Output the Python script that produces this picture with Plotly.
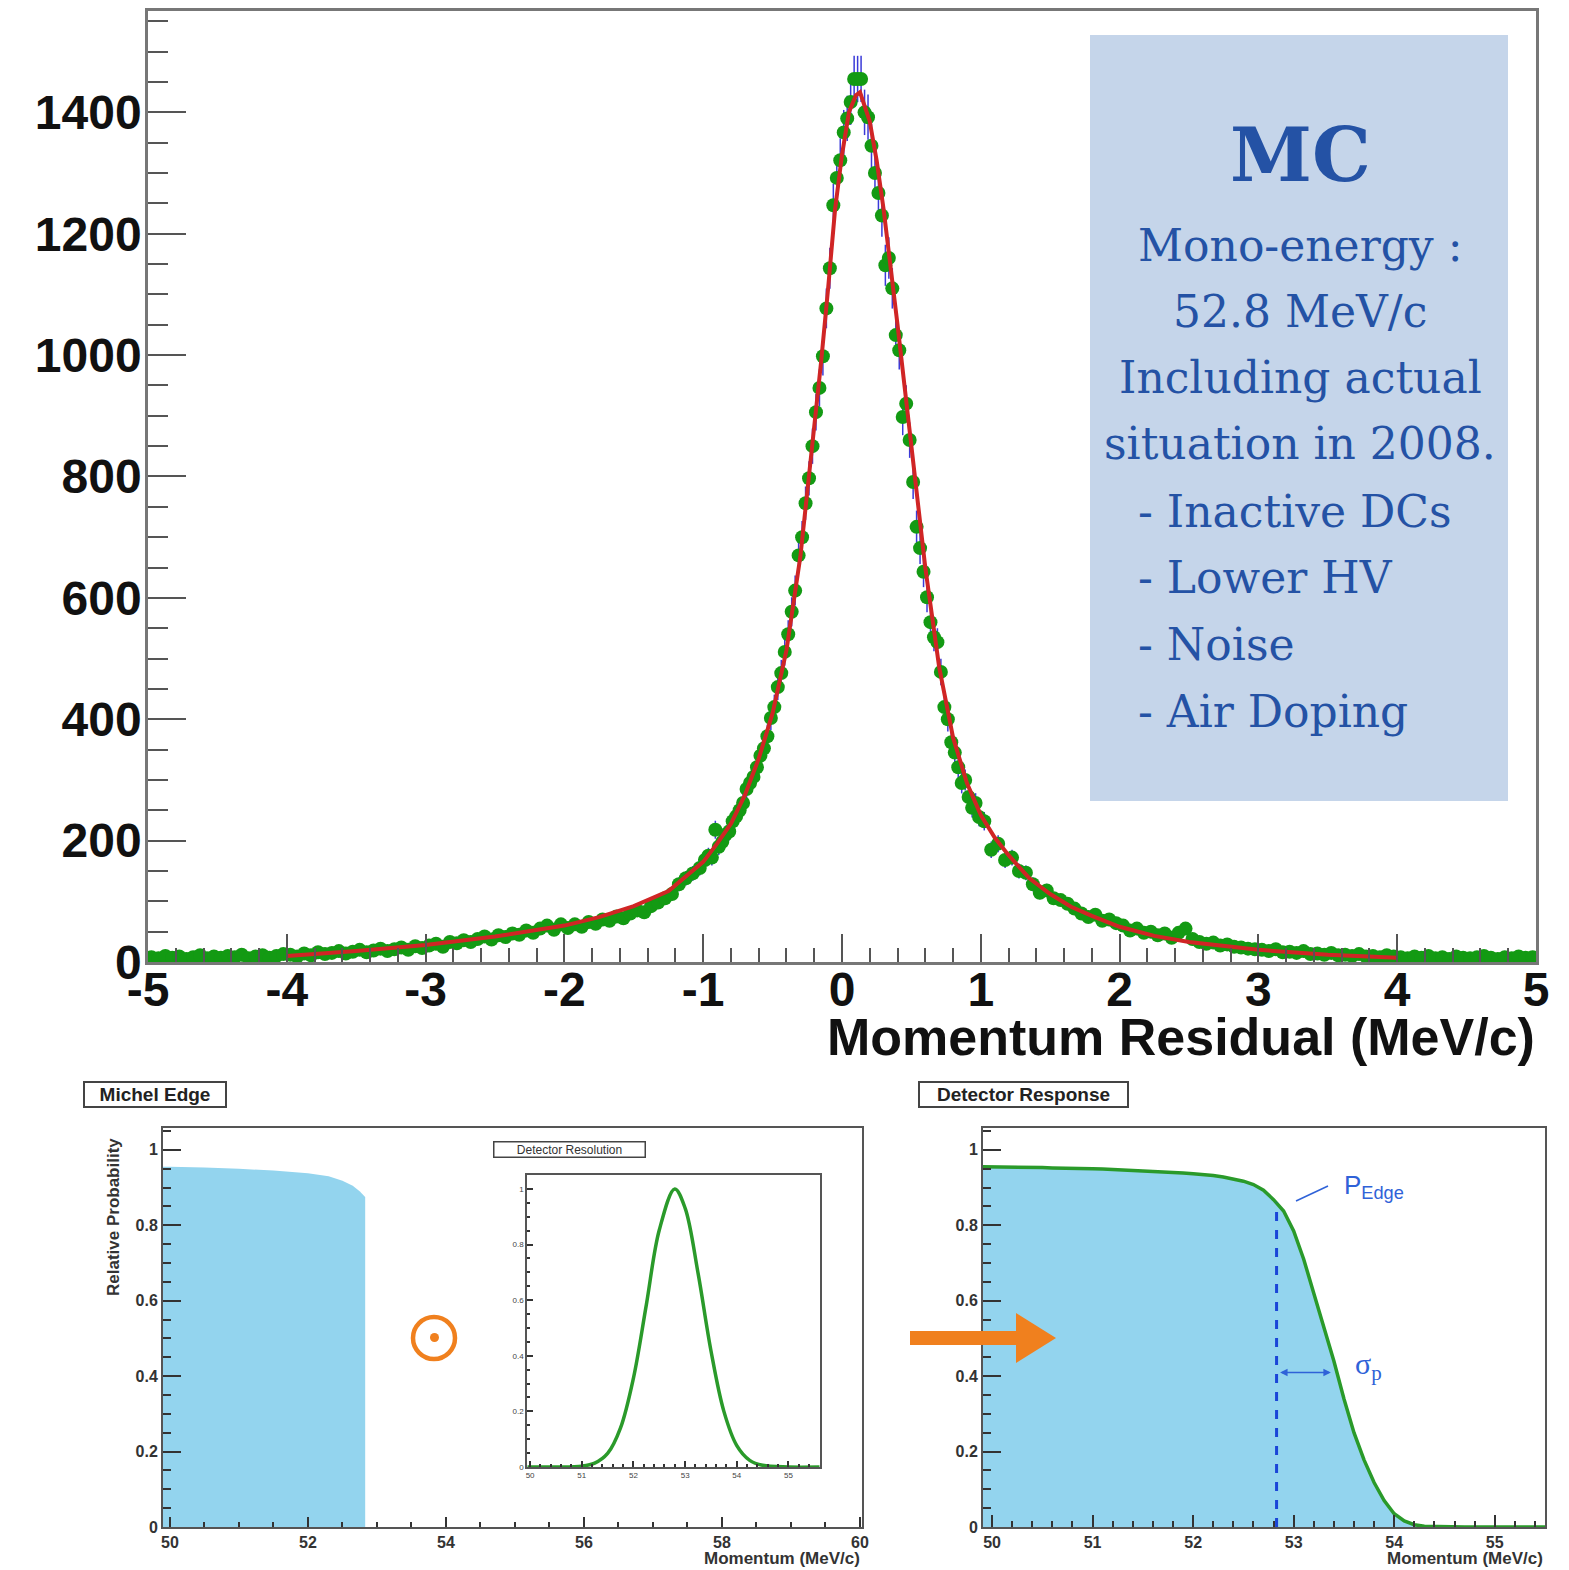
import numpy as np
import plotly.graph_objects as go

W, H = 1569, 1570


def px(x):
    return x / W


def py(y):
    return 1 - y / H


# ---------------- main histogram (Momentum Residual) ----------------
# left tail: bins of 0.05 MeV/c from -5 to -1
left_vals = [8, 6, 10, 7, 9, 5, 8, 11, 6, 9, 7, 10, 8, 12, 6, 9, 11, 7, 10, 13,
             12, 9, 14, 11, 16, 13, 15, 18, 14, 17, 20, 16, 19, 22, 18, 21, 24, 20, 26, 23,
             27, 30, 25, 33, 31, 36, 33, 38, 42, 37, 44, 41, 47, 45, 52, 48, 55, 60, 53, 62,
             56, 62, 58, 66, 63, 70, 68, 75, 72, 80, 85, 82, 92, 98, 105, 112, 128, 138, 146, 155]
# core: bins of 0.025 MeV/c from -1 to 1
core_vals = [168, 175, 172, 218, 190, 198, 210, 215, 232, 240,
             250, 262, 285, 295, 305, 321, 340, 352, 372, 402,
             420, 453, 476, 511, 540, 577, 612, 670, 700, 756,
             797, 850, 906, 946, 998, 1077, 1143, 1247, 1292, 1321,
             1367, 1390, 1417, 1455, 1455, 1455, 1400, 1392, 1345, 1300,
             1267, 1230, 1148, 1160, 1110, 1033, 1008, 898, 920, 860,
             791, 717, 682, 643, 601, 560, 535, 527, 478, 420,
             400, 362, 345, 321, 295, 300, 272, 254, 262, 239]
# right tail: bins of 0.05 MeV/c from 1 to 5
right_vals = [232, 185, 195, 168, 172, 150, 147, 128, 114, 118, 105, 102, 96, 88, 80, 74, 78, 68, 70, 64,
              60, 52, 55, 48, 50, 44, 47, 40, 48, 55, 38, 33, 30, 32, 27, 29, 25, 24, 22, 21,
              20, 18, 21, 16, 17, 15, 18, 13, 14, 12, 15, 11, 12, 10, 13, 9, 10, 8, 11, 9,
              8, 6, 9, 7, 10, 6, 8, 5, 9, 7, 6, 8, 10, 7, 5, 8, 6, 9, 7, 8]

left_x = -4.975 + 0.05 * np.arange(len(left_vals))
core_x = -0.9875 + 0.025 * np.arange(len(core_vals))
right_x = 1.025 + 0.05 * np.arange(len(right_vals))

hist_x = np.concatenate([left_x, core_x, right_x])
hist_y = np.array(left_vals + core_vals + right_vals, dtype=float)

# fitted curve
fit_x = [-4.0, -3.5, -3.0, -2.5, -2.0, -1.75, -1.5, -1.25, -1.0, -0.9, -0.8, -0.7, -0.6,
         -0.5, -0.4, -0.3, -0.25, -0.2, -0.15, -0.1, -0.05, 0.0, 0.05, 0.1, 0.13, 0.2,
         0.25, 0.3, 0.35, 0.4, 0.45, 0.5, 0.55, 0.6, 0.7, 0.8, 0.9, 1.0, 1.1, 1.2, 1.35,
         1.5, 1.65, 1.8, 2.0, 2.25, 2.5, 3.0, 3.5, 4.0]
fit_y = [10, 18, 28, 42, 60, 74, 92, 117, 165, 195, 228, 275, 335,
         410, 514, 668, 775, 880, 990, 1110, 1240, 1330, 1400, 1428, 1433, 1385,
         1320, 1240, 1150, 1050, 950, 845, 740, 650, 486, 370, 295, 242, 205, 176, 138,
         112, 91, 76, 58, 43, 33, 20, 12, 7]

main_xticks = [-5, -4, -3, -2, -1, 0, 1, 2, 3, 4, 5]
main_xticklabels = ["-5", "-4", "-3", "-2", "-1", "0", "1", "2", "3", "4", "5"]
main_yticks = [0, 200, 400, 600, 800, 1000, 1200, 1400]

# ---------------- bottom panels ----------------
michel_x = [49.9, 50.0, 50.5, 51.0, 51.5, 52.0, 52.3, 52.5, 52.65, 52.75, 52.83, 52.83]
michel_y = [0.955, 0.955, 0.953, 0.950, 0.945, 0.938, 0.930, 0.918, 0.905, 0.890, 0.875, 0.0]

res_x = [49.95, 50.5, 51.0, 51.25, 51.5, 51.75, 52.0, 52.25, 52.5, 52.8, 53.0, 53.25,
         53.5, 53.75, 54.0, 54.25, 54.5, 55.0, 55.6]
res_y = [0.0, 0.0, 0.003, 0.014, 0.049, 0.141, 0.32, 0.584, 0.852, 1.0, 0.931, 0.697,
         0.418, 0.2, 0.077, 0.024, 0.006, 0.0, 0.0]

resp_x = [49.9, 50.0, 50.1, 50.2, 50.3, 50.4, 50.5, 50.6, 50.7, 50.8, 50.9,
          51.0, 51.1, 51.2, 51.3, 51.4, 51.5, 51.6, 51.7, 51.8, 51.9,
          52.0, 52.1, 52.2, 52.3, 52.4, 52.5, 52.6, 52.7, 52.8, 52.9,
          53.0, 53.1, 53.2, 53.3, 53.4, 53.5, 53.6, 53.7, 53.8, 53.9,
          54.0, 54.1, 54.2, 54.3, 54.4, 54.5, 54.6, 54.7, 54.8, 54.9,
          55.0, 55.1, 55.2, 55.3, 55.4, 55.5]
resp_y = [0.955, 0.955, 0.955, 0.954, 0.954, 0.953, 0.953, 0.952, 0.952, 0.951, 0.950,
          0.950, 0.949, 0.948, 0.947, 0.946, 0.945, 0.944, 0.942, 0.940, 0.939,
          0.937, 0.935, 0.932, 0.928, 0.923, 0.917, 0.908, 0.893, 0.868, 0.838,
          0.785, 0.710, 0.620, 0.530, 0.440, 0.340, 0.250, 0.178, 0.118, 0.070,
          0.035, 0.016, 0.006, 0.002, 0.001, 0.0, 0.0, 0.0, 0.0, 0.0,
          0.0, 0.0, 0.0, 0.0, 0.0, 0.0]

p_edge = 52.83
sigma_end = 53.37
sigma_level = 0.41

prob_ticks = [0, 0.2, 0.4, 0.6, 0.8, 1.0]
prob_labels = ["0", "0.2", "0.4", "0.6", "0.8", "1"]

GREEN = "#139a13"
RED = "#d02525"
BLUE_ERR = "#3a3ad8"
FILL = "#93d4ee"
CURVE_GREEN = "#2a9a2a"
ORANGE = "#f0801e"
TXT_BLUE = "#2452a5"
ANN_BLUE = "#2f62d8"

fig = go.Figure()

# main histogram points
fig.add_trace(go.Scatter(
    x=hist_x, y=hist_y, mode="markers", xaxis="x", yaxis="y",
    marker=dict(color=GREEN, size=14, line=dict(width=0)),
    error_y=dict(type="data", array=np.sqrt(hist_y), color=BLUE_ERR, thickness=1.5, width=0),
))
fig.add_trace(go.Scatter(
    x=fit_x, y=fit_y, mode="lines", xaxis="x", yaxis="y",
    line=dict(color=RED, width=4),
))

# Michel edge
fig.add_trace(go.Scatter(
    x=michel_x, y=michel_y, mode="lines", xaxis="x2", yaxis="y2",
    fill="tozeroy", fillcolor=FILL, line=dict(width=0, color=FILL),
))
# Detector resolution
fig.add_trace(go.Scatter(
    x=res_x, y=res_y, mode="lines", xaxis="x3", yaxis="y3",
    line=dict(color=CURVE_GREEN, width=3.5, shape="spline"),
))
# Detector response
fig.add_trace(go.Scatter(
    x=resp_x, y=resp_y, mode="lines", xaxis="x4", yaxis="y4",
    fill="tozeroy", fillcolor=FILL, line=dict(color=CURVE_GREEN, width=3.5, shape="linear"),
))

SANS = "Liberation Sans"


def axis_common(**kw):
    d = dict(showgrid=False, zeroline=False, showline=True, mirror=True,
             automargin=False, ticks="inside", tickmode="array")
    d.update(kw)
    return d


big_font = dict(family=SANS, size=48, color="#111", weight="bold")
small_font = dict(family=SANS, size=16, color="#333", weight="bold")
tiny_font = dict(family=SANS, size=8, color="#444")

layout = dict(
    width=W, height=H, margin=dict(l=0, r=0, t=0, b=0),
    paper_bgcolor="white", plot_bgcolor="white", showlegend=False,
    xaxis=axis_common(domain=[px(148), px(1536)], range=[-5, 5], anchor="y",
                      tickvals=main_xticks, ticktext=main_xticklabels,
                      ticklen=28, tickwidth=2, tickcolor="#555",
                      linecolor="#777", linewidth=2.5, tickfont=big_font,
                      ticklabelstandoff=-16,
                      minor=dict(ticks="inside", dtick=0.2, tick0=0, ticklen=14,
                                 tickwidth=2, tickcolor="#555")),
    yaxis=axis_common(domain=[py(962), py(11)], range=[0, 1567], anchor="x",
                      tickvals=main_yticks, ticktext=[str(v) for v in main_yticks],
                      ticklen=38, tickwidth=2, tickcolor="#555",
                      linecolor="#777", linewidth=2.5, tickfont=big_font,
                      ticklabelstandoff=-6,
                      minor=dict(ticks="inside", dtick=50, tick0=0, ticklen=20,
                                 tickwidth=2, tickcolor="#555")),
    xaxis2=axis_common(domain=[px(163), px(862)], range=[49.9, 60.03], anchor="y2",
                       tickvals=[50, 52, 54, 56, 58, 60], ticktext=["50", "52", "54", "56", "58", "60"],
                       ticklen=10, tickwidth=2, tickcolor="#333",
                       linecolor="#555", linewidth=2, tickfont=small_font,
                       minor=dict(ticks="inside", dtick=0.5, tick0=50, ticklen=5,
                                  tickwidth=2, tickcolor="#333")),
    yaxis2=axis_common(domain=[py(1527), py(1128)], range=[0, 1.058], anchor="x2",
                       tickvals=prob_ticks, ticktext=prob_labels,
                       ticklen=18, tickwidth=2, tickcolor="#333",
                       linecolor="#555", linewidth=2, tickfont=small_font,
                       minor=dict(ticks="inside", dtick=0.05, tick0=0, ticklen=8,
                                  tickwidth=2, tickcolor="#333")),
    xaxis3=axis_common(domain=[px(527), px(820)], range=[49.94, 55.61], anchor="y3",
                       tickvals=[50, 51, 52, 53, 54, 55], ticktext=["50", "51", "52", "53", "54", "55"],
                       ticklen=6, tickwidth=1.5, tickcolor="#333",
                       linecolor="#555", linewidth=1.5, tickfont=tiny_font,
                       ticklabelstandoff=0,
                       minor=dict(ticks="inside", dtick=0.2, tick0=50, ticklen=3,
                                  tickwidth=1.5, tickcolor="#333")),
    yaxis3=axis_common(domain=[py(1467), py(1175)], range=[0, 1.05], anchor="x3",
                       tickvals=prob_ticks, ticktext=prob_labels,
                       ticklen=6, tickwidth=1.5, tickcolor="#333",
                       linecolor="#555", linewidth=1.5, tickfont=tiny_font,
                       ticklabelstandoff=0,
                       minor=dict(ticks="inside", dtick=0.05, tick0=0, ticklen=3,
                                  tickwidth=1.5, tickcolor="#333")),
    xaxis4=axis_common(domain=[px(983), px(1545)], range=[49.91, 55.5], anchor="y4",
                       tickvals=[50, 51, 52, 53, 54, 55], ticktext=["50", "51", "52", "53", "54", "55"],
                       ticklen=12, tickwidth=2, tickcolor="#333",
                       linecolor="#555", linewidth=2, tickfont=small_font,
                       minor=dict(ticks="inside", dtick=0.2, tick0=50, ticklen=6,
                                  tickwidth=2, tickcolor="#333")),
    yaxis4=axis_common(domain=[py(1527), py(1128)], range=[0, 1.058], anchor="x4",
                       tickvals=prob_ticks, ticktext=prob_labels,
                       ticklen=18, tickwidth=2, tickcolor="#333",
                       linecolor="#555", linewidth=2, tickfont=small_font,
                       minor=dict(ticks="inside", dtick=0.05, tick0=0, ticklen=8,
                                  tickwidth=2, tickcolor="#333")),
)
fig.update_layout(**layout)

shapes = []
# info box
shapes.append(dict(type="rect", xref="paper", yref="paper",
                   x0=px(1090), x1=px(1508), y0=py(801), y1=py(35),
                   fillcolor="#c5d5ea", line=dict(width=0), layer="above"))
# orange convolution symbol
shapes.append(dict(type="circle", xref="paper", yref="paper",
                   x0=px(413), x1=px(455), y0=py(1359), y1=py(1317),
                   line=dict(color=ORANGE, width=4.5)))
shapes.append(dict(type="circle", xref="paper", yref="paper",
                   x0=px(430), x1=px(439), y0=py(1342), y1=py(1333),
                   fillcolor=ORANGE, line=dict(color=ORANGE, width=0)))
# orange arrow
path = ("M {a},{b} L {c},{b} L {c},{d} L {e},{f} L {c},{g} L {c},{h} L {a},{h} Z").format(
    a=px(910), b=py(1331), c=px(1016), d=py(1313), e=px(1056), f=py(1338), g=py(1363), h=py(1345))
shapes.append(dict(type="path", xref="paper", yref="paper", path=path,
                   fillcolor=ORANGE, line=dict(width=0)))
# P_edge dashed line
shapes.append(dict(type="line", xref="x4", yref="y4", x0=p_edge, x1=p_edge, y0=0, y1=0.86,
                   line=dict(color="#1a45d8", width=3, dash="dash")))
# leader line to P_edge label
shapes.append(dict(type="line", xref="paper", yref="paper",
                   x0=px(1296), x1=px(1328), y0=py(1201), y1=py(1186),
                   line=dict(color=ANN_BLUE, width=1.5)))
fig.update_layout(shapes=shapes)

ann = []
SERIF = "DejaVu Serif"
ann.append(dict(text="MC", xref="paper", yref="paper", x=px(1300), y=py(155),
                xanchor="center", yanchor="middle", showarrow=False,
                font=dict(family=SERIF, size=74, color=TXT_BLUE, weight="bold")))
center_lines = [("Mono-energy :", 246), ("52.8 MeV/c", 312),
                ("Including actual", 378), ("situation in 2008.", 444)]
for t, yy in center_lines:
    ann.append(dict(text=t, xref="paper", yref="paper", x=px(1300), y=py(yy),
                    xanchor="center", yanchor="middle", showarrow=False,
                    font=dict(family=SERIF, size=44, color=TXT_BLUE)))
bullet_lines = [("- Inactive DCs", 511), ("- Lower HV", 578), ("- Noise", 644), ("- Air Doping", 711)]
for t, yy in bullet_lines:
    ann.append(dict(text=t, xref="paper", yref="paper", x=px(1136), y=py(yy),
                    xanchor="left", yanchor="middle", showarrow=False,
                    font=dict(family=SERIF, size=44, color=TXT_BLUE)))

# main axis title
ann.append(dict(text="Momentum Residual (MeV/c)", xref="paper", yref="paper",
                x=px(1537), y=py(1037), xanchor="right", yanchor="middle", showarrow=False,
                font=dict(family=SANS, size=52, color="#111", weight="bold")))

# bottom panel labels
box_font = dict(family=SANS, size=19, color="#222", weight="bold")
ann.append(dict(text="Michel Edge", xref="paper", yref="paper", x=px(155), y=py(1094),
                xanchor="center", yanchor="middle", showarrow=False, font=box_font,
                bordercolor="#444", borderwidth=2, bgcolor="white", width=140, height=23,
                borderpad=0))
ann.append(dict(text="Detector Response", xref="paper", yref="paper", x=px(1023), y=py(1094),
                xanchor="center", yanchor="middle", showarrow=False, font=box_font,
                bordercolor="#444", borderwidth=2, bgcolor="white", width=207, height=23,
                borderpad=0))
ann.append(dict(text="Detector Resolution", xref="paper", yref="paper", x=px(569), y=py(1149),
                xanchor="center", yanchor="middle", showarrow=False,
                font=dict(family=SANS, size=12, color="#333"),
                bordercolor="#444", borderwidth=1.5, bgcolor="white", width=150, height=14,
                borderpad=0))
ann.append(dict(text="Relative Probability", xref="paper", yref="paper", x=px(113), y=py(1217),
                xanchor="center", yanchor="middle", showarrow=False, textangle=-90,
                font=dict(family=SANS, size=17, color="#333", weight="bold")))
for xr in (862, 1545):
    ann.append(dict(text="Momentum (MeV/c)", xref="paper", yref="paper", x=px(xr), y=py(1558),
                    xanchor="right", yanchor="middle", showarrow=False,
                    font=dict(family=SANS, size=17, color="#333", weight="bold")))

# P_edge & sigma_p labels
ann.append(dict(text="P<sub>Edge</sub>", xref="paper", yref="paper", x=px(1342), y=py(1186),
                xanchor="left", yanchor="middle", showarrow=False,
                font=dict(family=SANS, size=26, color=ANN_BLUE)))
ann.append(dict(text="σ<sub>p</sub>", xref="paper", yref="paper", x=px(1353), y=py(1366),
                xanchor="left", yanchor="middle", showarrow=False,
                font=dict(family="Liberation Serif", size=30, color=ANN_BLUE)))
# double-headed arrow for sigma_p
ann.append(dict(text="", x=sigma_end, y=sigma_level, ax=p_edge + 0.02, ay=sigma_level,
                xref="x4", yref="y4", axref="x4", ayref="y4", showarrow=True,
                arrowhead=2, startarrowhead=2, arrowside="end+start", arrowsize=1,
                arrowwidth=1.5, arrowcolor=ANN_BLUE))
fig.update_layout(annotations=ann)

fig.write_html("out.html")
